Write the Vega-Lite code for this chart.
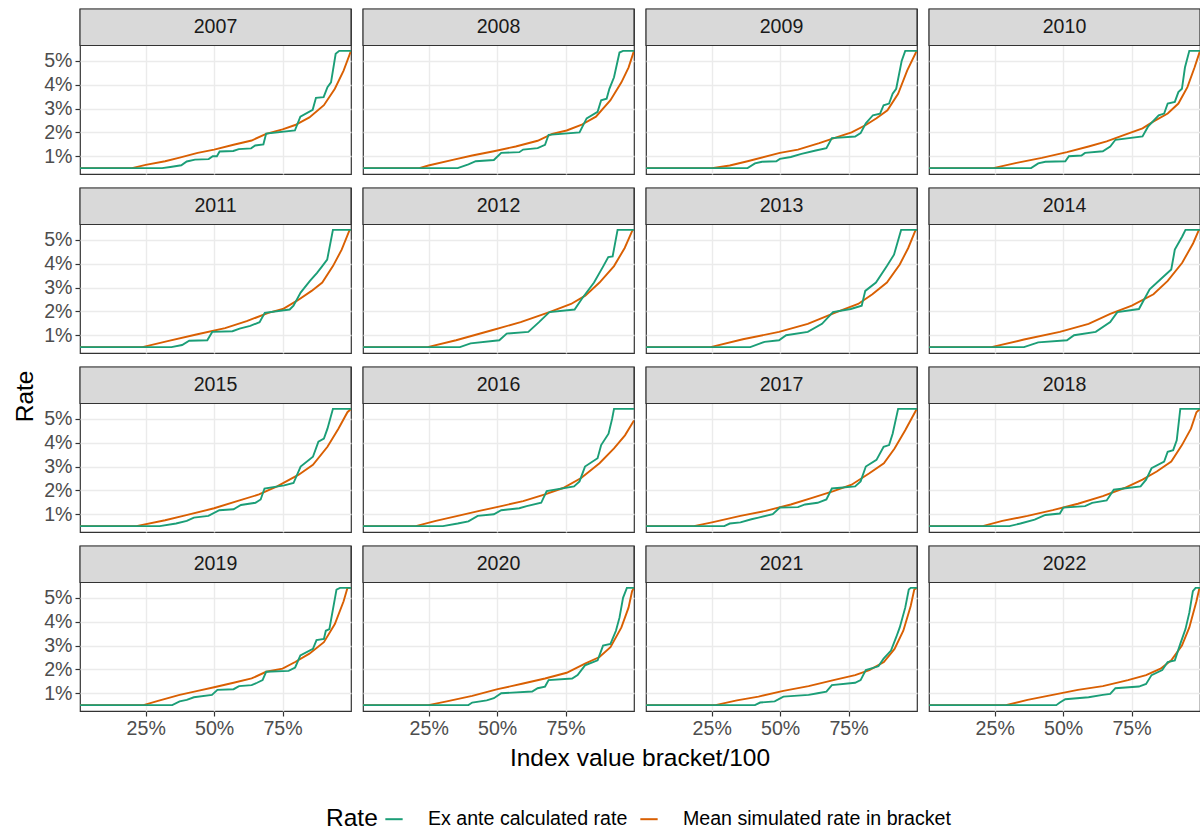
{
"$schema":"https://vega.github.io/schema/vega-lite/v6.json",
"padding":{"left":13,"top":7,"right":0,"bottom":5},
"background":"white",
"bounds":"flush",
"title":{"text":"Rate","orient":"left","anchor":"middle","fontSize":24.5,"fontWeight":"normal","color":"#000000","offset":5,"dx":23},
"datasets":{"names":[{"s":"E","Rate":"Ex ante calculated rate"},{"s":"M","Rate":"Mean simulated rate in bracket"}]},
"data":{"values":[
{"year":2007,"s":"M","x":1,"v":0.5},{"year":2007,"s":"M","x":20,"v":0.5},{"year":2007,"s":"M","x":25,"v":0.64},{"year":2007,"s":"M","x":32.1,"v":0.79},{"year":2007,"s":"M","x":37.4,"v":0.94},{"year":2007,"s":"M","x":44,"v":1.14},{"year":2007,"s":"M","x":50,"v":1.28},{"year":2007,"s":"M","x":57.1,"v":1.48},{"year":2007,"s":"M","x":63.7,"v":1.66},{"year":2007,"s":"M","x":69,"v":1.94},{"year":2007,"s":"M","x":75,"v":2.13},{"year":2007,"s":"M","x":79.6,"v":2.31},{"year":2007,"s":"M","x":84.8,"v":2.63},{"year":2007,"s":"M","x":90.1,"v":3.14},{"year":2007,"s":"M","x":94.1,"v":3.83},{"year":2007,"s":"M","x":97.3,"v":4.59},{"year":2007,"s":"M","x":100,"v":5.42},
{"year":2007,"s":"E","x":1,"v":0.5},{"year":2007,"s":"E","x":31,"v":0.5},{"year":2007,"s":"E","x":34,"v":0.55},{"year":2007,"s":"E","x":38,"v":0.62},{"year":2007,"s":"E","x":40,"v":0.78},{"year":2007,"s":"E","x":43,"v":0.86},{"year":2007,"s":"E","x":48,"v":0.88},{"year":2007,"s":"E","x":49.5,"v":1.0},{"year":2007,"s":"E","x":51,"v":1.0},{"year":2007,"s":"E","x":52,"v":1.2},{"year":2007,"s":"E","x":57,"v":1.22},{"year":2007,"s":"E","x":59,"v":1.3},{"year":2007,"s":"E","x":63.5,"v":1.33},{"year":2007,"s":"E","x":65,"v":1.45},{"year":2007,"s":"E","x":68,"v":1.5},{"year":2007,"s":"E","x":69,"v":1.95},{"year":2007,"s":"E","x":79.5,"v":2.08},{"year":2007,"s":"E","x":81.5,"v":2.66},{"year":2007,"s":"E","x":86,"v":2.95},{"year":2007,"s":"E","x":87.2,"v":3.45},{"year":2007,"s":"E","x":90,"v":3.48},{"year":2007,"s":"E","x":91.4,"v":3.9},{"year":2007,"s":"E","x":92.7,"v":4.1},{"year":2007,"s":"E","x":94.4,"v":5.3},{"year":2007,"s":"E","x":95.7,"v":5.42},{"year":2007,"s":"E","x":100,"v":5.42},
{"year":2008,"s":"M","x":1,"v":0.5},{"year":2008,"s":"M","x":21.6,"v":0.5},{"year":2008,"s":"M","x":24.9,"v":0.61},{"year":2008,"s":"M","x":34.2,"v":0.86},{"year":2008,"s":"M","x":40.9,"v":1.03},{"year":2008,"s":"M","x":48.8,"v":1.21},{"year":2008,"s":"M","x":56.8,"v":1.41},{"year":2008,"s":"M","x":64.8,"v":1.65},{"year":2008,"s":"M","x":70.1,"v":1.94},{"year":2008,"s":"M","x":75.4,"v":2.08},{"year":2008,"s":"M","x":80.7,"v":2.31},{"year":2008,"s":"M","x":86.1,"v":2.66},{"year":2008,"s":"M","x":91.4,"v":3.35},{"year":2008,"s":"M","x":95.4,"v":4.1},{"year":2008,"s":"M","x":98,"v":4.72},{"year":2008,"s":"M","x":100,"v":5.42},
{"year":2008,"s":"E","x":1,"v":0.5},{"year":2008,"s":"E","x":35.6,"v":0.5},{"year":2008,"s":"E","x":39.5,"v":0.66},{"year":2008,"s":"E","x":42.2,"v":0.79},{"year":2008,"s":"E","x":48.8,"v":0.84},{"year":2008,"s":"E","x":51.5,"v":1.14},{"year":2008,"s":"E","x":58.1,"v":1.17},{"year":2008,"s":"E","x":59.5,"v":1.28},{"year":2008,"s":"E","x":64.8,"v":1.34},{"year":2008,"s":"E","x":67.5,"v":1.48},{"year":2008,"s":"E","x":68.8,"v":1.9},{"year":2008,"s":"E","x":80.1,"v":2.0},{"year":2008,"s":"E","x":82.7,"v":2.59},{"year":2008,"s":"E","x":86.7,"v":2.86},{"year":2008,"s":"E","x":88,"v":3.35},{"year":2008,"s":"E","x":90,"v":3.41},{"year":2008,"s":"E","x":91,"v":3.83},{"year":2008,"s":"E","x":92.7,"v":4.31},{"year":2008,"s":"E","x":94.7,"v":5.35},{"year":2008,"s":"E","x":96,"v":5.42},{"year":2008,"s":"E","x":100,"v":5.42},
{"year":2009,"s":"M","x":1,"v":0.5},{"year":2009,"s":"M","x":25.1,"v":0.5},{"year":2009,"s":"M","x":31.6,"v":0.61},{"year":2009,"s":"M","x":38.1,"v":0.79},{"year":2009,"s":"M","x":49.9,"v":1.14},{"year":2009,"s":"M","x":56.5,"v":1.28},{"year":2009,"s":"M","x":64.3,"v":1.55},{"year":2009,"s":"M","x":70.8,"v":1.8},{"year":2009,"s":"M","x":76.1,"v":2.0},{"year":2009,"s":"M","x":81.3,"v":2.31},{"year":2009,"s":"M","x":85.2,"v":2.59},{"year":2009,"s":"M","x":89.2,"v":2.93},{"year":2009,"s":"M","x":93.1,"v":3.62},{"year":2009,"s":"M","x":96.4,"v":4.59},{"year":2009,"s":"M","x":99.6,"v":5.35},{"year":2009,"s":"M","x":100,"v":5.42},
{"year":2009,"s":"E","x":1,"v":0.5},{"year":2009,"s":"E","x":38.1,"v":0.5},{"year":2009,"s":"E","x":40.8,"v":0.7},{"year":2009,"s":"E","x":43.4,"v":0.77},{"year":2009,"s":"E","x":48.6,"v":0.79},{"year":2009,"s":"E","x":49.9,"v":0.89},{"year":2009,"s":"E","x":53.9,"v":0.97},{"year":2009,"s":"E","x":57.8,"v":1.1},{"year":2009,"s":"E","x":63,"v":1.24},{"year":2009,"s":"E","x":66.9,"v":1.34},{"year":2009,"s":"E","x":68.9,"v":1.76},{"year":2009,"s":"E","x":77.4,"v":1.83},{"year":2009,"s":"E","x":79.4,"v":1.97},{"year":2009,"s":"E","x":81.3,"v":2.38},{"year":2009,"s":"E","x":83.9,"v":2.72},{"year":2009,"s":"E","x":86.5,"v":2.79},{"year":2009,"s":"E","x":87.8,"v":3.14},{"year":2009,"s":"E","x":89.8,"v":3.21},{"year":2009,"s":"E","x":91.1,"v":3.62},{"year":2009,"s":"E","x":92.4,"v":3.83},{"year":2009,"s":"E","x":94.4,"v":5.0},{"year":2009,"s":"E","x":95.7,"v":5.42},{"year":2009,"s":"E","x":100,"v":5.42},
{"year":2010,"s":"M","x":1,"v":0.5},{"year":2010,"s":"M","x":24.5,"v":0.5},{"year":2010,"s":"M","x":33,"v":0.72},{"year":2010,"s":"M","x":42.2,"v":0.93},{"year":2010,"s":"M","x":51.4,"v":1.17},{"year":2010,"s":"M","x":59.3,"v":1.41},{"year":2010,"s":"M","x":65.9,"v":1.62},{"year":2010,"s":"M","x":72.4,"v":1.9},{"year":2010,"s":"M","x":79,"v":2.17},{"year":2010,"s":"M","x":82.9,"v":2.45},{"year":2010,"s":"M","x":88.2,"v":2.79},{"year":2010,"s":"M","x":92.1,"v":3.21},{"year":2010,"s":"M","x":95.4,"v":3.9},{"year":2010,"s":"M","x":98,"v":4.72},{"year":2010,"s":"M","x":100,"v":5.42},
{"year":2010,"s":"E","x":1,"v":0.5},{"year":2010,"s":"E","x":38.3,"v":0.5},{"year":2010,"s":"E","x":40.9,"v":0.7},{"year":2010,"s":"E","x":43.5,"v":0.77},{"year":2010,"s":"E","x":50.8,"v":0.79},{"year":2010,"s":"E","x":52.1,"v":1.0},{"year":2010,"s":"E","x":56.7,"v":1.03},{"year":2010,"s":"E","x":58,"v":1.14},{"year":2010,"s":"E","x":64.5,"v":1.21},{"year":2010,"s":"E","x":67.2,"v":1.41},{"year":2010,"s":"E","x":69.1,"v":1.69},{"year":2010,"s":"E","x":79,"v":1.83},{"year":2010,"s":"E","x":81,"v":2.24},{"year":2010,"s":"E","x":84.9,"v":2.72},{"year":2010,"s":"E","x":86.9,"v":2.79},{"year":2010,"s":"E","x":88.2,"v":3.21},{"year":2010,"s":"E","x":90.8,"v":3.28},{"year":2010,"s":"E","x":92.1,"v":3.69},{"year":2010,"s":"E","x":93.4,"v":3.83},{"year":2010,"s":"E","x":94.5,"v":4.72},{"year":2010,"s":"E","x":96.1,"v":5.42},{"year":2010,"s":"E","x":100,"v":5.42},
{"year":2011,"s":"M","x":1,"v":0.5},{"year":2011,"s":"M","x":23.8,"v":0.5},{"year":2011,"s":"M","x":33,"v":0.75},{"year":2011,"s":"M","x":43.5,"v":1.03},{"year":2011,"s":"M","x":54,"v":1.3},{"year":2011,"s":"M","x":61.9,"v":1.59},{"year":2011,"s":"M","x":69.8,"v":1.94},{"year":2011,"s":"M","x":75.1,"v":2.1},{"year":2011,"s":"M","x":80.3,"v":2.45},{"year":2011,"s":"M","x":85.6,"v":2.86},{"year":2011,"s":"M","x":89.5,"v":3.21},{"year":2011,"s":"M","x":93.4,"v":3.9},{"year":2011,"s":"M","x":96.6,"v":4.59},{"year":2011,"s":"M","x":99.5,"v":5.42},{"year":2011,"s":"M","x":100,"v":5.42},
{"year":2011,"s":"E","x":1,"v":0.5},{"year":2011,"s":"E","x":34.4,"v":0.5},{"year":2011,"s":"E","x":38.3,"v":0.59},{"year":2011,"s":"E","x":40.9,"v":0.77},{"year":2011,"s":"E","x":47.5,"v":0.79},{"year":2011,"s":"E","x":49.3,"v":1.14},{"year":2011,"s":"E","x":56.7,"v":1.17},{"year":2011,"s":"E","x":59.3,"v":1.28},{"year":2011,"s":"E","x":63.2,"v":1.39},{"year":2011,"s":"E","x":66.6,"v":1.55},{"year":2011,"s":"E","x":68.5,"v":1.94},{"year":2011,"s":"E","x":77.6,"v":2.08},{"year":2011,"s":"E","x":79,"v":2.24},{"year":2011,"s":"E","x":81.6,"v":2.79},{"year":2011,"s":"E","x":85,"v":3.28},{"year":2011,"s":"E","x":87.6,"v":3.62},{"year":2011,"s":"E","x":89.5,"v":3.9},{"year":2011,"s":"E","x":91.3,"v":4.17},{"year":2011,"s":"E","x":93.4,"v":5.42},{"year":2011,"s":"E","x":100,"v":5.42},
{"year":2012,"s":"M","x":1,"v":0.5},{"year":2012,"s":"M","x":24.6,"v":0.5},{"year":2012,"s":"M","x":35,"v":0.79},{"year":2012,"s":"M","x":48.1,"v":1.21},{"year":2012,"s":"M","x":58.6,"v":1.55},{"year":2012,"s":"M","x":69.1,"v":1.97},{"year":2012,"s":"M","x":77,"v":2.31},{"year":2012,"s":"M","x":82.2,"v":2.66},{"year":2012,"s":"M","x":87.4,"v":3.21},{"year":2012,"s":"M","x":92.7,"v":3.9},{"year":2012,"s":"M","x":96.6,"v":4.66},{"year":2012,"s":"M","x":99.5,"v":5.42},{"year":2012,"s":"M","x":100,"v":5.42},
{"year":2012,"s":"E","x":1,"v":0.5},{"year":2012,"s":"E","x":36.4,"v":0.5},{"year":2012,"s":"E","x":40.3,"v":0.66},{"year":2012,"s":"E","x":50.8,"v":0.79},{"year":2012,"s":"E","x":53.5,"v":1.07},{"year":2012,"s":"E","x":61.4,"v":1.14},{"year":2012,"s":"E","x":65.3,"v":1.55},{"year":2012,"s":"E","x":69.1,"v":1.97},{"year":2012,"s":"E","x":78.3,"v":2.08},{"year":2012,"s":"E","x":80.9,"v":2.52},{"year":2012,"s":"E","x":85.4,"v":3.21},{"year":2012,"s":"E","x":88.8,"v":3.9},{"year":2012,"s":"E","x":90.6,"v":4.28},{"year":2012,"s":"E","x":92.2,"v":4.31},{"year":2012,"s":"E","x":94,"v":5.42},{"year":2012,"s":"E","x":100,"v":5.42},
{"year":2013,"s":"M","x":1,"v":0.5},{"year":2013,"s":"M","x":24.6,"v":0.5},{"year":2013,"s":"M","x":36.4,"v":0.83},{"year":2013,"s":"M","x":49.6,"v":1.14},{"year":2013,"s":"M","x":60.1,"v":1.48},{"year":2013,"s":"M","x":70.6,"v":1.97},{"year":2013,"s":"M","x":78.5,"v":2.31},{"year":2013,"s":"M","x":83.7,"v":2.72},{"year":2013,"s":"M","x":89,"v":3.21},{"year":2013,"s":"M","x":93.7,"v":3.97},{"year":2013,"s":"M","x":96.8,"v":4.66},{"year":2013,"s":"M","x":99.5,"v":5.42},{"year":2013,"s":"M","x":100,"v":5.42},
{"year":2013,"s":"E","x":1,"v":0.5},{"year":2013,"s":"E","x":39.1,"v":0.5},{"year":2013,"s":"E","x":44.3,"v":0.72},{"year":2013,"s":"E","x":49.6,"v":0.79},{"year":2013,"s":"E","x":52.2,"v":1.0},{"year":2013,"s":"E","x":60.1,"v":1.14},{"year":2013,"s":"E","x":65.3,"v":1.48},{"year":2013,"s":"E","x":69.3,"v":1.97},{"year":2013,"s":"E","x":75.8,"v":2.1},{"year":2013,"s":"E","x":79.8,"v":2.24},{"year":2013,"s":"E","x":81.1,"v":2.86},{"year":2013,"s":"E","x":85,"v":3.21},{"year":2013,"s":"E","x":89,"v":3.9},{"year":2013,"s":"E","x":91.6,"v":4.38},{"year":2013,"s":"E","x":94.2,"v":5.42},{"year":2013,"s":"E","x":100,"v":5.42},
{"year":2014,"s":"M","x":1,"v":0.5},{"year":2014,"s":"M","x":23.8,"v":0.5},{"year":2014,"s":"M","x":35.7,"v":0.82},{"year":2014,"s":"M","x":48.8,"v":1.14},{"year":2014,"s":"M","x":59.3,"v":1.48},{"year":2014,"s":"M","x":67.2,"v":1.9},{"year":2014,"s":"M","x":75.1,"v":2.24},{"year":2014,"s":"M","x":83,"v":2.72},{"year":2014,"s":"M","x":88.2,"v":3.28},{"year":2014,"s":"M","x":93.5,"v":4.04},{"year":2014,"s":"M","x":97.5,"v":4.86},{"year":2014,"s":"M","x":99.6,"v":5.42},{"year":2014,"s":"M","x":100,"v":5.42},
{"year":2014,"s":"E","x":1,"v":0.5},{"year":2014,"s":"E","x":35.7,"v":0.5},{"year":2014,"s":"E","x":40.9,"v":0.7},{"year":2014,"s":"E","x":51.4,"v":0.79},{"year":2014,"s":"E","x":54,"v":1.0},{"year":2014,"s":"E","x":61.9,"v":1.14},{"year":2014,"s":"E","x":67.2,"v":1.55},{"year":2014,"s":"E","x":69.8,"v":1.97},{"year":2014,"s":"E","x":77.7,"v":2.1},{"year":2014,"s":"E","x":81.6,"v":2.93},{"year":2014,"s":"E","x":85.6,"v":3.35},{"year":2014,"s":"E","x":89.5,"v":3.76},{"year":2014,"s":"E","x":90.8,"v":4.59},{"year":2014,"s":"E","x":93.5,"v":5.14},{"year":2014,"s":"E","x":94.7,"v":5.42},{"year":2014,"s":"E","x":100,"v":5.42},
{"year":2015,"s":"M","x":1,"v":0.5},{"year":2015,"s":"M","x":21.6,"v":0.5},{"year":2015,"s":"M","x":32.1,"v":0.75},{"year":2015,"s":"M","x":38.7,"v":0.93},{"year":2015,"s":"M","x":50,"v":1.25},{"year":2015,"s":"M","x":58.4,"v":1.55},{"year":2015,"s":"M","x":66.4,"v":1.83},{"year":2015,"s":"M","x":73,"v":2.17},{"year":2015,"s":"M","x":80.9,"v":2.66},{"year":2015,"s":"M","x":86.1,"v":3.07},{"year":2015,"s":"M","x":91.4,"v":3.83},{"year":2015,"s":"M","x":95.4,"v":4.59},{"year":2015,"s":"M","x":98.7,"v":5.28},{"year":2015,"s":"M","x":100,"v":5.42},
{"year":2015,"s":"E","x":1,"v":0.5},{"year":2015,"s":"E","x":30.1,"v":0.5},{"year":2015,"s":"E","x":36.1,"v":0.61},{"year":2015,"s":"E","x":40,"v":0.72},{"year":2015,"s":"E","x":42.6,"v":0.86},{"year":2015,"s":"E","x":47.9,"v":0.93},{"year":2015,"s":"E","x":51.9,"v":1.17},{"year":2015,"s":"E","x":57.1,"v":1.21},{"year":2015,"s":"E","x":59.8,"v":1.39},{"year":2015,"s":"E","x":65.1,"v":1.48},{"year":2015,"s":"E","x":67,"v":1.62},{"year":2015,"s":"E","x":68.4,"v":2.08},{"year":2015,"s":"E","x":75.6,"v":2.21},{"year":2015,"s":"E","x":79,"v":2.31},{"year":2015,"s":"E","x":81.6,"v":3.0},{"year":2015,"s":"E","x":86.1,"v":3.41},{"year":2015,"s":"E","x":88.1,"v":4.04},{"year":2015,"s":"E","x":90.1,"v":4.17},{"year":2015,"s":"E","x":91.4,"v":4.59},{"year":2015,"s":"E","x":93.4,"v":5.42},{"year":2015,"s":"E","x":100,"v":5.42},
{"year":2016,"s":"M","x":1,"v":0.5},{"year":2016,"s":"M","x":20.3,"v":0.5},{"year":2016,"s":"M","x":27.6,"v":0.72},{"year":2016,"s":"M","x":35.6,"v":0.93},{"year":2016,"s":"M","x":43.5,"v":1.14},{"year":2016,"s":"M","x":51.5,"v":1.34},{"year":2016,"s":"M","x":59.5,"v":1.55},{"year":2016,"s":"M","x":67.5,"v":1.83},{"year":2016,"s":"M","x":74.1,"v":2.1},{"year":2016,"s":"M","x":80.7,"v":2.52},{"year":2016,"s":"M","x":87.4,"v":3.14},{"year":2016,"s":"M","x":92.7,"v":3.76},{"year":2016,"s":"M","x":96.7,"v":4.31},{"year":2016,"s":"M","x":100,"v":4.93},
{"year":2016,"s":"E","x":1,"v":0.5},{"year":2016,"s":"E","x":30.2,"v":0.5},{"year":2016,"s":"E","x":35.6,"v":0.61},{"year":2016,"s":"E","x":39.5,"v":0.7},{"year":2016,"s":"E","x":42.9,"v":0.93},{"year":2016,"s":"E","x":48.8,"v":1.0},{"year":2016,"s":"E","x":51.5,"v":1.17},{"year":2016,"s":"E","x":58.1,"v":1.25},{"year":2016,"s":"E","x":60.8,"v":1.34},{"year":2016,"s":"E","x":66.1,"v":1.48},{"year":2016,"s":"E","x":68.1,"v":1.97},{"year":2016,"s":"E","x":78.1,"v":2.17},{"year":2016,"s":"E","x":80.1,"v":2.38},{"year":2016,"s":"E","x":82.1,"v":3.0},{"year":2016,"s":"E","x":86.7,"v":3.35},{"year":2016,"s":"E","x":88,"v":3.9},{"year":2016,"s":"E","x":90.7,"v":4.38},{"year":2016,"s":"E","x":92,"v":5.0},{"year":2016,"s":"E","x":92.7,"v":5.42},{"year":2016,"s":"E","x":100,"v":5.42},
{"year":2017,"s":"M","x":1,"v":0.5},{"year":2017,"s":"M","x":18.5,"v":0.5},{"year":2017,"s":"M","x":25.1,"v":0.66},{"year":2017,"s":"M","x":35.5,"v":0.93},{"year":2017,"s":"M","x":44.7,"v":1.14},{"year":2017,"s":"M","x":53.9,"v":1.41},{"year":2017,"s":"M","x":61.7,"v":1.69},{"year":2017,"s":"M","x":69.5,"v":1.97},{"year":2017,"s":"M","x":76.1,"v":2.24},{"year":2017,"s":"M","x":82.6,"v":2.72},{"year":2017,"s":"M","x":87.9,"v":3.14},{"year":2017,"s":"M","x":91.8,"v":3.76},{"year":2017,"s":"M","x":95.7,"v":4.52},{"year":2017,"s":"M","x":99.6,"v":5.35},{"year":2017,"s":"M","x":100,"v":5.42},
{"year":2017,"s":"E","x":1,"v":0.5},{"year":2017,"s":"E","x":29.6,"v":0.5},{"year":2017,"s":"E","x":31.6,"v":0.61},{"year":2017,"s":"E","x":35.5,"v":0.66},{"year":2017,"s":"E","x":39.5,"v":0.79},{"year":2017,"s":"E","x":42.1,"v":0.86},{"year":2017,"s":"E","x":47.3,"v":1.0},{"year":2017,"s":"E","x":49.9,"v":1.28},{"year":2017,"s":"E","x":56.5,"v":1.3},{"year":2017,"s":"E","x":59.1,"v":1.41},{"year":2017,"s":"E","x":63.7,"v":1.48},{"year":2017,"s":"E","x":66.9,"v":1.62},{"year":2017,"s":"E","x":68.9,"v":2.08},{"year":2017,"s":"E","x":77.4,"v":2.17},{"year":2017,"s":"E","x":79.4,"v":2.38},{"year":2017,"s":"E","x":81.3,"v":3.0},{"year":2017,"s":"E","x":85.2,"v":3.28},{"year":2017,"s":"E","x":87.8,"v":3.83},{"year":2017,"s":"E","x":89.8,"v":3.9},{"year":2017,"s":"E","x":91.1,"v":4.38},{"year":2017,"s":"E","x":93.1,"v":5.42},{"year":2017,"s":"E","x":100,"v":5.42},
{"year":2018,"s":"M","x":1,"v":0.5},{"year":2018,"s":"M","x":20.6,"v":0.5},{"year":2018,"s":"M","x":27.8,"v":0.72},{"year":2018,"s":"M","x":37,"v":0.93},{"year":2018,"s":"M","x":46.2,"v":1.17},{"year":2018,"s":"M","x":55.4,"v":1.44},{"year":2018,"s":"M","x":64.5,"v":1.76},{"year":2018,"s":"M","x":72.4,"v":2.1},{"year":2018,"s":"M","x":79,"v":2.45},{"year":2018,"s":"M","x":84.2,"v":2.79},{"year":2018,"s":"M","x":89.5,"v":3.21},{"year":2018,"s":"M","x":93.4,"v":3.9},{"year":2018,"s":"M","x":96.7,"v":4.59},{"year":2018,"s":"M","x":98.7,"v":5.28},{"year":2018,"s":"M","x":100,"v":5.42},
{"year":2018,"s":"E","x":1,"v":0.5},{"year":2018,"s":"E","x":30.4,"v":0.5},{"year":2018,"s":"E","x":34.4,"v":0.61},{"year":2018,"s":"E","x":39.6,"v":0.77},{"year":2018,"s":"E","x":43.5,"v":0.97},{"year":2018,"s":"E","x":48.8,"v":1.03},{"year":2018,"s":"E","x":50.1,"v":1.28},{"year":2018,"s":"E","x":58,"v":1.34},{"year":2018,"s":"E","x":60.6,"v":1.48},{"year":2018,"s":"E","x":65.9,"v":1.58},{"year":2018,"s":"E","x":68.5,"v":2.03},{"year":2018,"s":"E","x":78.3,"v":2.17},{"year":2018,"s":"E","x":80.3,"v":2.45},{"year":2018,"s":"E","x":82.3,"v":2.93},{"year":2018,"s":"E","x":86.9,"v":3.21},{"year":2018,"s":"E","x":88.2,"v":3.62},{"year":2018,"s":"E","x":90.2,"v":3.69},{"year":2018,"s":"E","x":91.5,"v":4.1},{"year":2018,"s":"E","x":92.8,"v":5.42},{"year":2018,"s":"E","x":100,"v":5.42},
{"year":2019,"s":"M","x":1,"v":0.5},{"year":2019,"s":"M","x":24.2,"v":0.5},{"year":2019,"s":"M","x":29.5,"v":0.68},{"year":2019,"s":"M","x":37.4,"v":0.93},{"year":2019,"s":"M","x":44,"v":1.1},{"year":2019,"s":"M","x":50,"v":1.25},{"year":2019,"s":"M","x":57.1,"v":1.44},{"year":2019,"s":"M","x":63.7,"v":1.62},{"year":2019,"s":"M","x":69,"v":1.9},{"year":2019,"s":"M","x":75,"v":2.03},{"year":2019,"s":"M","x":79.6,"v":2.31},{"year":2019,"s":"M","x":84.8,"v":2.66},{"year":2019,"s":"M","x":90.1,"v":3.14},{"year":2019,"s":"M","x":94.1,"v":3.9},{"year":2019,"s":"M","x":97.3,"v":4.86},{"year":2019,"s":"M","x":98.7,"v":5.42},{"year":2019,"s":"M","x":100,"v":5.42},
{"year":2019,"s":"E","x":1,"v":0.5},{"year":2019,"s":"E","x":34.7,"v":0.5},{"year":2019,"s":"E","x":37.4,"v":0.66},{"year":2019,"s":"E","x":40,"v":0.72},{"year":2019,"s":"E","x":42.6,"v":0.83},{"year":2019,"s":"E","x":49.2,"v":0.93},{"year":2019,"s":"E","x":51.2,"v":1.14},{"year":2019,"s":"E","x":57.1,"v":1.17},{"year":2019,"s":"E","x":59.1,"v":1.3},{"year":2019,"s":"E","x":63.7,"v":1.34},{"year":2019,"s":"E","x":65.7,"v":1.44},{"year":2019,"s":"E","x":67.7,"v":1.55},{"year":2019,"s":"E","x":69,"v":1.9},{"year":2019,"s":"E","x":77.2,"v":1.94},{"year":2019,"s":"E","x":79.6,"v":2.08},{"year":2019,"s":"E","x":81.5,"v":2.59},{"year":2019,"s":"E","x":86.1,"v":2.86},{"year":2019,"s":"E","x":87.4,"v":3.23},{"year":2019,"s":"E","x":90.1,"v":3.28},{"year":2019,"s":"E","x":90.8,"v":3.62},{"year":2019,"s":"E","x":92.1,"v":3.69},{"year":2019,"s":"E","x":94.7,"v":5.35},{"year":2019,"s":"E","x":96,"v":5.42},{"year":2019,"s":"E","x":100,"v":5.42},
{"year":2020,"s":"M","x":1,"v":0.5},{"year":2020,"s":"M","x":24.9,"v":0.5},{"year":2020,"s":"M","x":31.6,"v":0.66},{"year":2020,"s":"M","x":40.9,"v":0.89},{"year":2020,"s":"M","x":50.2,"v":1.17},{"year":2020,"s":"M","x":59.5,"v":1.41},{"year":2020,"s":"M","x":67.5,"v":1.62},{"year":2020,"s":"M","x":75.4,"v":1.86},{"year":2020,"s":"M","x":82.1,"v":2.24},{"year":2020,"s":"M","x":87.4,"v":2.52},{"year":2020,"s":"M","x":91.4,"v":2.93},{"year":2020,"s":"M","x":95.4,"v":3.76},{"year":2020,"s":"M","x":98,"v":4.59},{"year":2020,"s":"M","x":99.3,"v":5.28},{"year":2020,"s":"M","x":100,"v":5.42},
{"year":2020,"s":"E","x":1,"v":0.5},{"year":2020,"s":"E","x":39.5,"v":0.5},{"year":2020,"s":"E","x":40.9,"v":0.61},{"year":2020,"s":"E","x":46.2,"v":0.7},{"year":2020,"s":"E","x":48.8,"v":0.79},{"year":2020,"s":"E","x":51.5,"v":1.0},{"year":2020,"s":"E","x":62.8,"v":1.07},{"year":2020,"s":"E","x":64.8,"v":1.21},{"year":2020,"s":"E","x":67.5,"v":1.28},{"year":2020,"s":"E","x":68.8,"v":1.55},{"year":2020,"s":"E","x":77.4,"v":1.62},{"year":2020,"s":"E","x":79.4,"v":1.76},{"year":2020,"s":"E","x":82.1,"v":2.17},{"year":2020,"s":"E","x":86.7,"v":2.38},{"year":2020,"s":"E","x":88.7,"v":3.0},{"year":2020,"s":"E","x":91.4,"v":3.07},{"year":2020,"s":"E","x":93.4,"v":3.62},{"year":2020,"s":"E","x":94.7,"v":4.17},{"year":2020,"s":"E","x":96,"v":5.0},{"year":2020,"s":"E","x":97.4,"v":5.42},{"year":2020,"s":"E","x":100,"v":5.42},
{"year":2021,"s":"M","x":1,"v":0.5},{"year":2021,"s":"M","x":26.4,"v":0.5},{"year":2021,"s":"M","x":34.2,"v":0.7},{"year":2021,"s":"M","x":42.1,"v":0.86},{"year":2021,"s":"M","x":51.2,"v":1.1},{"year":2021,"s":"M","x":60.4,"v":1.3},{"year":2021,"s":"M","x":69.5,"v":1.55},{"year":2021,"s":"M","x":77.4,"v":1.76},{"year":2021,"s":"M","x":82.6,"v":1.97},{"year":2021,"s":"M","x":87.9,"v":2.31},{"year":2021,"s":"M","x":91.8,"v":2.86},{"year":2021,"s":"M","x":95,"v":3.62},{"year":2021,"s":"M","x":97.7,"v":4.66},{"year":2021,"s":"M","x":99,"v":5.35},{"year":2021,"s":"M","x":100,"v":5.42},
{"year":2021,"s":"E","x":1,"v":0.5},{"year":2021,"s":"E","x":40.8,"v":0.5},{"year":2021,"s":"E","x":42.7,"v":0.61},{"year":2021,"s":"E","x":48,"v":0.66},{"year":2021,"s":"E","x":51.2,"v":0.86},{"year":2021,"s":"E","x":60.4,"v":0.93},{"year":2021,"s":"E","x":63.7,"v":1.0},{"year":2021,"s":"E","x":66.9,"v":1.07},{"year":2021,"s":"E","x":68.9,"v":1.34},{"year":2021,"s":"E","x":77.4,"v":1.44},{"year":2021,"s":"E","x":79.4,"v":1.55},{"year":2021,"s":"E","x":81.3,"v":1.97},{"year":2021,"s":"E","x":85.9,"v":2.13},{"year":2021,"s":"E","x":87.8,"v":2.45},{"year":2021,"s":"E","x":90.5,"v":2.79},{"year":2021,"s":"E","x":92.4,"v":3.35},{"year":2021,"s":"E","x":93.7,"v":3.76},{"year":2021,"s":"E","x":95.7,"v":4.59},{"year":2021,"s":"E","x":97,"v":5.35},{"year":2021,"s":"E","x":97.7,"v":5.42},{"year":2021,"s":"E","x":100,"v":5.42},
{"year":2022,"s":"M","x":1,"v":0.5},{"year":2022,"s":"M","x":29.1,"v":0.5},{"year":2022,"s":"M","x":37,"v":0.72},{"year":2022,"s":"M","x":46.2,"v":0.93},{"year":2022,"s":"M","x":55.4,"v":1.14},{"year":2022,"s":"M","x":64.5,"v":1.3},{"year":2022,"s":"M","x":73.7,"v":1.55},{"year":2022,"s":"M","x":80.3,"v":1.76},{"year":2022,"s":"M","x":85.6,"v":2.03},{"year":2022,"s":"M","x":89.5,"v":2.38},{"year":2022,"s":"M","x":93.4,"v":3.0},{"year":2022,"s":"M","x":96.1,"v":3.76},{"year":2022,"s":"M","x":98.7,"v":4.86},{"year":2022,"s":"M","x":99.8,"v":5.42},{"year":2022,"s":"M","x":100,"v":5.42},
{"year":2022,"s":"E","x":1,"v":0.5},{"year":2022,"s":"E","x":47.5,"v":0.5},{"year":2022,"s":"E","x":48.8,"v":0.61},{"year":2022,"s":"E","x":50.8,"v":0.75},{"year":2022,"s":"E","x":59.3,"v":0.83},{"year":2022,"s":"E","x":64.5,"v":0.93},{"year":2022,"s":"E","x":67.2,"v":0.97},{"year":2022,"s":"E","x":69.1,"v":1.21},{"year":2022,"s":"E","x":77.7,"v":1.28},{"year":2022,"s":"E","x":80.3,"v":1.39},{"year":2022,"s":"E","x":82.3,"v":1.76},{"year":2022,"s":"E","x":86.2,"v":1.97},{"year":2022,"s":"E","x":88.2,"v":2.31},{"year":2022,"s":"E","x":90.8,"v":2.38},{"year":2022,"s":"E","x":92.8,"v":3.07},{"year":2022,"s":"E","x":94.7,"v":3.69},{"year":2022,"s":"E","x":96.1,"v":4.38},{"year":2022,"s":"E","x":97.4,"v":5.28},{"year":2022,"s":"E","x":98.4,"v":5.42},{"year":2022,"s":"E","x":100,"v":5.42}
]},
"transform":[{"lookup":"s","from":{"data":{"name":"names"},"key":"s","fields":["Rate"]}}],
"facet":{"field":"year","type":"ordinal","title":"Index value bracket/100","header":{"labels":false,"labelExpr":"''","labelFontSize":0,"labelPadding":0,"titleOrient":"bottom","titleFontSize":24.5,"titleFontWeight":"normal","titleColor":"#000000","titlePadding":9}},
"columns":4,
"spacing":{"column":12,"row":14},
"spec":{
"width":271,"height":165,
"layer":[
{"mark":{"type":"line","strokeWidth":1.9,"clip":true},
"encoding":{
"x":{"field":"x","type":"quantitative","title":null,"scale":{"domain":[1,100],"nice":false,"zero":false},"axis":{"values":[25,50,75],"labelExpr":"datum.value + '%'"}},
"y":{"field":"v","type":"quantitative","title":null,"scale":{"domain":[0.255,7.176],"nice":false,"zero":false},"axis":{"values":[1,2,3,4,5],"labelExpr":"datum.value + '%'"}},
"color":{"field":"Rate","type":"nominal","scale":{"domain":["Ex ante calculated rate","Mean simulated rate in bracket"],"range":["#1b9e77","#d95f02"]},"legend":{"title":"Rate","orient":"none","direction":"horizontal","titleOrient":"left","legendX":246,"legendY":800}}}},
{"transform":[{"aggregate":[{"op":"count","as":"n"}],"groupby":["year"]}],
"layer":[
{"mark":{"type":"rect","fill":"#d9d9d9","stroke":"#333333","strokeWidth":1.2},
"encoding":{"x":{"datum":1},"x2":{"datum":100},"y":{"datum":5.645},"y2":{"datum":7.176}}},
{"mark":{"type":"text","fontSize":19.6,"color":"#1a1a1a","baseline":"middle","align":"center"},
"encoding":{"x":{"datum":50.5},"y":{"datum":6.41},"text":{"field":"year","type":"nominal"}}}
]}
]},
"config":{
"font":"Liberation Sans",
"view":{"stroke":"#333333","strokeWidth":1.2},
"header":{"labels":false,"labelExpr":"''","labelFontSize":0,"labelPadding":0},
"headerFacet":{"labels":false,"labelExpr":"''","labelFontSize":0,"labelPadding":0},
"axis":{"grid":true,"gridColor":"#ebebeb","gridWidth":1.4,"domain":false,"tickColor":"#333333","tickWidth":1.2,"tickSize":5,"labelFontSize":19.6,"labelColor":"#4d4d4d","labelPadding":3,"titleFontSize":24.5,"titleFontWeight":"normal","titleColor":"#000000","titlePadding":5},
"legend":{"titleFontSize":24.5,"titleFontWeight":"normal","titleColor":"#000000","labelFontSize":19.6,"labelColor":"#000000","labelLimit":0,"symbolType":"stroke","symbolStrokeWidth":2,"symbolSize":300,"labelOffset":24,"columnPadding":8,"titlePadding":6,"titleBaseline":"middle"}
}
}
